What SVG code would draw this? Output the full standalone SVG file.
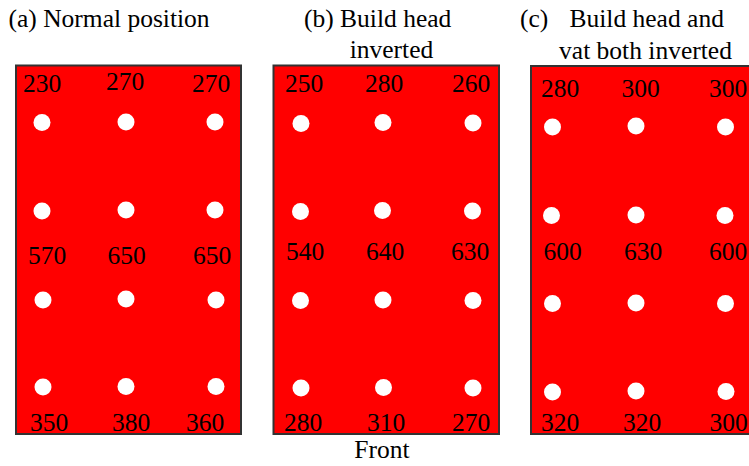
<svg xmlns="http://www.w3.org/2000/svg" width="749" height="466" viewBox="0 0 749 466">
  <style>
    .plate { fill: #ff0000; stroke: #333333; stroke-width: 2; }
    .hole { fill: #ffffff; }
    text { font-family: 'Liberation Serif', 'DejaVu Serif', 'Times New Roman', Times, serif; font-size: 25.5px; fill: #000000; }
    .num { text-anchor: middle; }
  </style>
  <defs>
    <filter id="soft" x="-20%" y="-20%" width="140%" height="140%">
      <feGaussianBlur stdDeviation="0.5"/>
    </filter>
  </defs>

  <!-- (a) normal position -->
  <g id="panel-a">
    <text x="8.5" y="26.5">(a) Normal position</text>
    <rect class="plate" x="16" y="65.5" width="225" height="368.5"/>
    <g class="hole" filter="url(#soft)">
      <circle cx="42" cy="122.5" r="8.5"/><circle cx="126" cy="122" r="8.5"/><circle cx="215" cy="122" r="8.5"/>
      <circle cx="42" cy="211" r="8.5"/><circle cx="126" cy="210" r="8.5"/><circle cx="215" cy="210" r="8.5"/>
      <circle cx="43" cy="300" r="8.5"/><circle cx="126" cy="299" r="8.5"/><circle cx="216" cy="300" r="8.5"/>
      <circle cx="43" cy="387" r="8.5"/><circle cx="126" cy="386.5" r="8.5"/><circle cx="216" cy="386.5" r="8.5"/>
    </g>
    <text class="num" x="42" y="91.5">230</text>
    <text class="num" x="125" y="90">270</text>
    <text class="num" x="211" y="91.5">270</text>
    <text class="num" x="47" y="264">570</text>
    <text class="num" x="126.5" y="264">650</text>
    <text class="num" x="212" y="264">650</text>
    <text class="num" x="49" y="430.5">350</text>
    <text class="num" x="131" y="430.5">380</text>
    <text class="num" x="205" y="430.5">360</text>
  </g>

  <!-- (b) build head inverted -->
  <g id="panel-b">
    <text x="304" y="27">(b) Build head</text>
    <text x="391.5" y="58" text-anchor="middle">inverted</text>
    <rect class="plate" x="273.5" y="65.5" width="225.5" height="368.5"/>
    <g class="hole" filter="url(#soft)">
      <circle cx="301" cy="123.5" r="8.5"/><circle cx="383" cy="122.5" r="8.5"/><circle cx="473" cy="123" r="8.5"/>
      <circle cx="300.5" cy="211.5" r="8.5"/><circle cx="382.5" cy="210.5" r="8.5"/><circle cx="472.5" cy="211" r="8.5"/>
      <circle cx="300.5" cy="300.5" r="8.5"/><circle cx="383" cy="300" r="8.5"/><circle cx="473" cy="300.5" r="8.5"/>
      <circle cx="301" cy="388" r="8.5"/><circle cx="383.5" cy="387.5" r="8.5"/><circle cx="473" cy="388" r="8.5"/>
    </g>
    <text class="num" x="304" y="92">250</text>
    <text class="num" x="384" y="92">280</text>
    <text class="num" x="471" y="92">260</text>
    <text class="num" x="305" y="260">540</text>
    <text class="num" x="385" y="260">640</text>
    <text class="num" x="470" y="260">630</text>
    <text class="num" x="303" y="430.5">280</text>
    <text class="num" x="386" y="430.5">310</text>
    <text class="num" x="471" y="430.5">270</text>
  </g>

  <!-- (c) build head and vat both inverted -->
  <g id="panel-c">
    <text x="520" y="27">(c)</text>
    <text x="569.5" y="27">Build head and</text>
    <text x="645.5" y="59" text-anchor="middle">vat both inverted</text>
    <rect class="plate" x="531" y="66" width="230" height="368"/>
    <g class="hole" filter="url(#soft)">
      <circle cx="552.5" cy="127" r="8.5"/><circle cx="636" cy="126" r="8.5"/><circle cx="725.5" cy="127" r="8.5"/>
      <circle cx="551.5" cy="215.5" r="8.5"/><circle cx="636" cy="215" r="8.5"/><circle cx="725" cy="215.5" r="8.5"/>
      <circle cx="552.5" cy="303.5" r="8.5"/><circle cx="636" cy="303" r="8.5"/><circle cx="725.5" cy="303.5" r="8.5"/>
      <circle cx="552.5" cy="392" r="8.5"/><circle cx="636" cy="391" r="8.5"/><circle cx="726" cy="391.5" r="8.5"/>
    </g>
    <text class="num" x="560" y="97">280</text>
    <text class="num" x="640.5" y="97">300</text>
    <text class="num" x="728" y="97">300</text>
    <text class="num" x="562.5" y="260">600</text>
    <text class="num" x="643" y="260">630</text>
    <text class="num" x="728" y="260">600</text>
    <text class="num" x="560" y="430.5">320</text>
    <text class="num" x="642" y="430.5">320</text>
    <text class="num" x="728.5" y="430.5">300</text>
  </g>

  <g id="connectors"/>

  <text x="382" y="458" text-anchor="middle">Front</text>
</svg>
